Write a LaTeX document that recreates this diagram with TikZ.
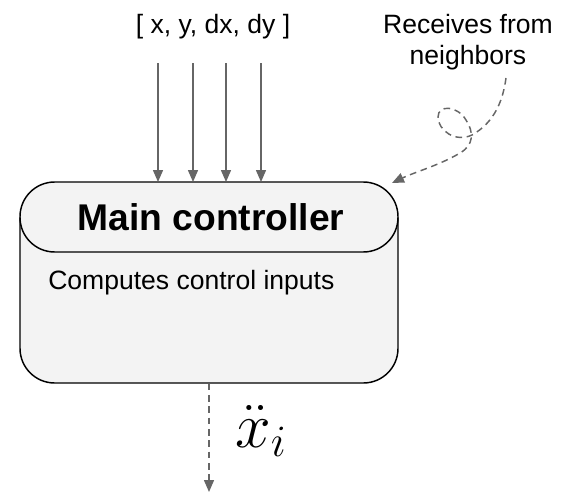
\RequirePackage{fix-cm}
\documentclass[tikz,border=0pt]{standalone}
\usepackage{fontspec}
\setmainfont{Liberation Sans}
\usepackage{tikz}
\usetikzlibrary{positioning, arrows.meta, calc}
\definecolor{boxgray}{HTML}{F3F3F3}
\definecolor{arrowgray}{HTML}{666666}
\tikzset{
  ctrlbox/.style={rectangle, rounded corners=26pt, minimum width=283.5pt, minimum height=150.75pt, draw=black, line width=1.1pt, fill=boxgray},
  label/.style={font=\fontsize{19.9}{23}\selectfont, align=center, inner sep=0pt},
  arrow/.style={draw=arrowgray, line width=1.1pt, -{Triangle[length=9pt, width=7.5pt]}, arrowgray},
  dasharrow/.style={arrow, dash pattern=on 5pt off 3.5pt}
}
\begin{document}
\begin{tikzpicture}[x=0.75pt, y=-0.75pt]
    \useasboundingbox (0,0) rectangle (588,496);

    \node (ctrl) [ctrlbox] at (209,282.5) {};
    \node (title) [inner sep=0pt, font=\fontsize{27.9}{30}\selectfont\bfseries] at (211,217) {Main controller};
    \node (desc) [label, anchor=west] at (48,283) {Computes control inputs};

    \node (state) [label] at (213,27) {[ x, y, dx, dy ]};
    \node (recv) [label] at (468,42) {Receives from\\neighbors};
    \node (out) [inner sep=0pt, font=\fontsize{48}{52}\selectfont] at (261,431) {$\ddot{x}_i$};

    % header line
    \draw [line width=1.1pt, rounded corners=26pt] (20,220) -- (20,252) -- (398,252) -- (398,220);

    % inputs
    \foreach \x in {158,193,226,261}
      \draw [arrow] (\x,63) -- (\x,182);

    % from neighbors
    \coordinate (recvend) at (392,183);
    \draw [dasharrow] (recv.south) ++(38,8) .. controls (503,100) and (495,122) .. (472,135)
      .. controls (455,143) and (438,130) .. (438,117)
      .. controls (438,104) and (458,106) .. (466,120)
      .. controls (474,132) and (474,145) .. (460,153)
      .. controls (440,165) and (415,172) .. (recvend);

    % output
    \coordinate (outend) at (209,492);
    \draw [dasharrow] (ctrl.south) -- (outend);

\end{tikzpicture}
\end{document}
